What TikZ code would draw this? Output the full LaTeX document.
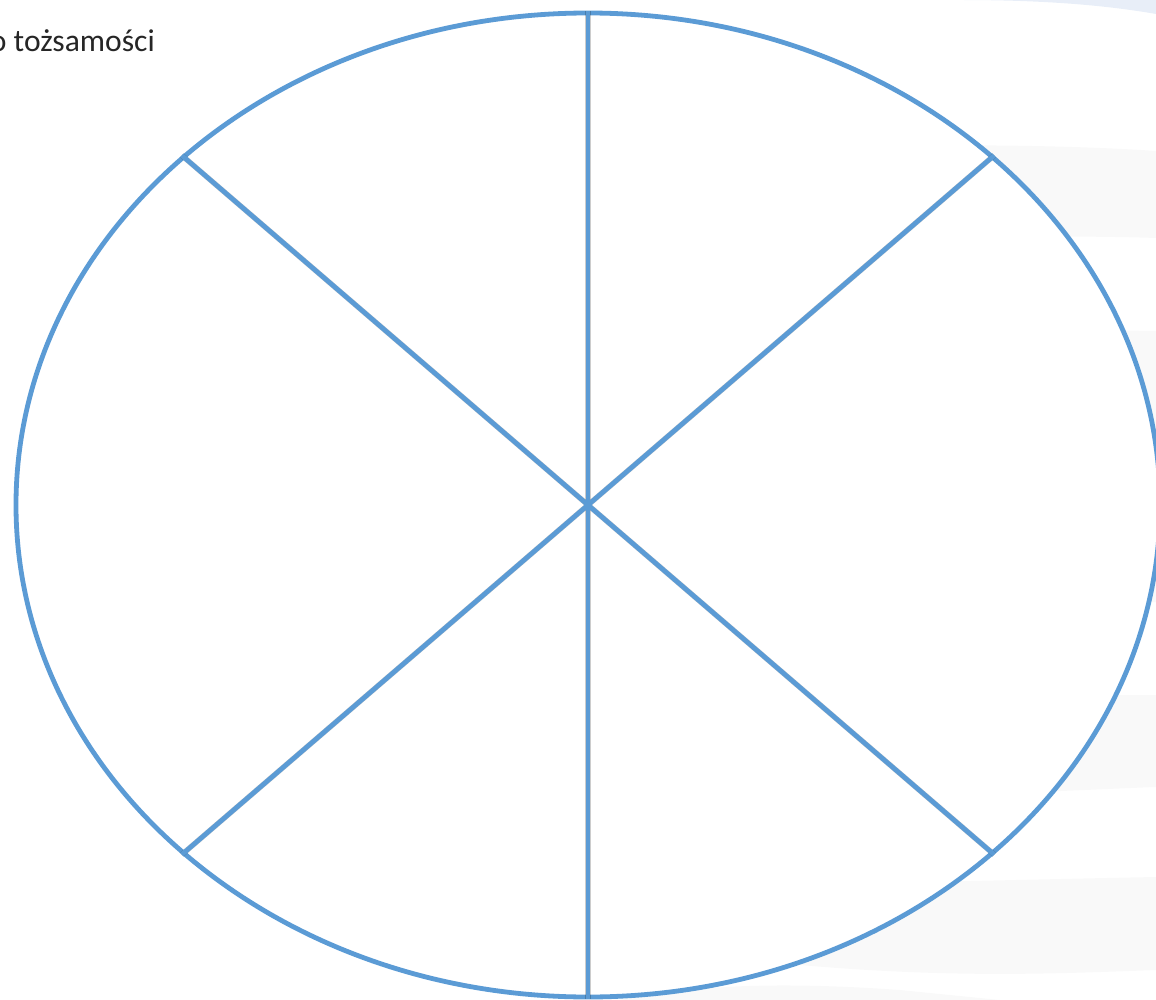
\documentclass[tikz,border=0pt]{standalone}
\usepackage{fontspec}
\setmainfont{Carlito}
\usetikzlibrary{shapes.geometric}
\definecolor{wheelblue}{HTML}{5B9BD5}
\definecolor{bandgray}{HTML}{F9F9F9}
\definecolor{bandblue}{HTML}{E8EEF8}
\definecolor{textgray}{HTML}{262626}
\begin{document}
\begin{tikzpicture}[x=1pt,y=-1pt,
  spoke/.style={draw=wheelblue,line width=4.8pt},
  spokeshadow/.style={draw=black,opacity=0.2,line width=5.4pt,xshift=1.6pt,yshift=-1.6pt},
  band/.style={fill=bandgray,draw=none},
  topband/.style={fill=bandblue,draw=none},
  rim/.style={ellipse,draw=wheelblue,line width=4.8pt,fill=white,inner sep=0pt,
    minimum width=1144pt,minimum height=984pt}]
\useasboundingbox (0,0) rectangle (1156,1000);
\clip (0,0) rectangle (1156,1000);
% faint background waves
\fill[topband] (960,0) .. controls (1050,0) and (1110,6) .. (1156,14) -- (1156,0) -- cycle;
\fill[band] (900,146) .. controls (1000,144) and (1100,147) .. (1156,151) -- (1156,238)
  .. controls (1100,236) and (1000,236) .. (900,238) -- cycle;
\fill[band] (900,331) .. controls (1000,330) and (1100,330) .. (1156,331) -- (1156,602)
  .. controls (1100,603) and (1000,603) .. (900,604) -- cycle;
\fill[band] (900,697) .. controls (1000,696) and (1100,695) .. (1156,695) -- (1156,787)
  .. controls (1100,789) and (1060,792) .. (900,796) -- cycle;
\fill[band] (760,885) .. controls (900,883) and (1050,879) .. (1156,877) -- (1156,970)
  .. controls (1050,974) and (950,978) .. (800,965) -- cycle;
\fill[band] (620,1000) .. controls (680,988) and (760,980) .. (900,990) -- (1000,1000) -- cycle;
% wheel
\node[rim] (wheel) at (588,505) {};
\coordinate (hub) at (wheel.center);
\foreach \a in {north east,north west,south east,south west,north,south}
  \draw[spokeshadow] (hub) -- (wheel.\a);
\foreach \a in {north east,north west,south east,south west,north,south}
  \draw[spoke] (hub) -- (wheel.\a);
\node[anchor=base east,inner sep=0pt,text=textgray,font=\fontsize{31.6}{38}\selectfont] (title) at (155,52) {o tożsamości};
\end{tikzpicture}
\end{document}
